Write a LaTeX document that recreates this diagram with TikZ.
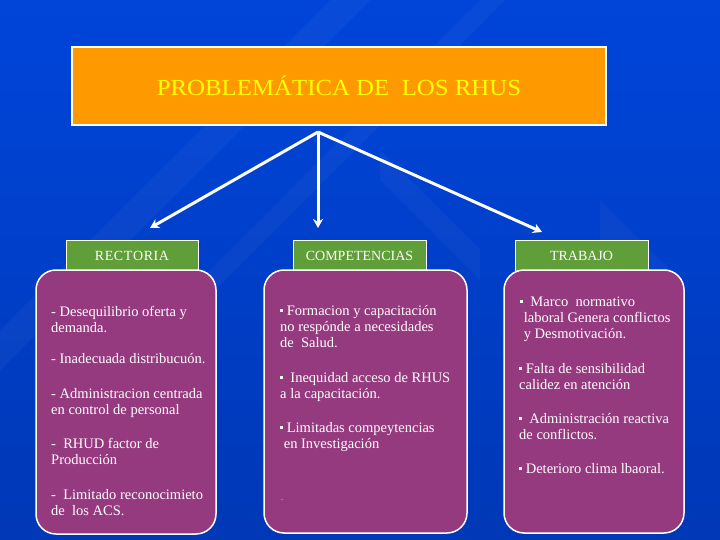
\documentclass[tikz,border=0pt]{standalone}
\usepackage{fontspec}
\setmainfont{Liberation Serif}
\usetikzlibrary{arrows.meta}
\definecolor{bgtop}{RGB}{0,100,250}
\definecolor{bgmid}{RGB}{0,68,215}
\definecolor{bgdark}{RGB}{0,28,105}
\definecolor{bgbot}{RGB}{0,2,18}
\definecolor{orangebox}{RGB}{255,153,0}
\definecolor{titleyel}{RGB}{255,255,0}
\definecolor{greenhead}{RGB}{96,158,58}
\definecolor{purplebox}{RGB}{150,58,128}
\pgfdeclareverticalshading{bgshade}{720bp}{color(0bp)=(bgbot); color(140bp)=(bgdark); color(290bp)=(bgmid); color(540bp)=(bgtop)}
\newcommand{\bul}{\raisebox{0.45ex}{\rule{3pt}{3pt}}}
\tikzset{
  titlebox/.style={draw=white, line width=1.5pt, fill=orangebox},
  headbox/.style={draw=white, line width=1pt, fill=greenhead},
  headtext/.style={text=white, anchor=base, inner sep=0pt, font=\fontsize{14}{16}\selectfont},
  itembox/.style={draw=white, line width=1.5pt, fill=purplebox, rounded corners=20pt},
  itemtext/.style={anchor=north west, align=left, text=white, inner sep=0pt, font=\fontsize{14.5}{16.2}\selectfont},
  arr/.style={draw=white, line width=3pt, -{Stealth[length=9pt,width=10pt]}},
  stripe/.style={fill=white, opacity=0.035}
}
% first baseline y -> node top: subtract 0.7*16.2 = 11.34
\begin{document}
\begin{tikzpicture}[x=1pt,y=-1pt]
\useasboundingbox (0,0) rectangle (720,540);
\shade[shading=bgshade] (0,0) rectangle (720,540);
% diagonal light stripes
\fill[stripe] (0,330) -- (330,0) -- (370,0) -- (0,370) -- cycle;
\fill[stripe] (150,330) -- (480,0) -- (505,0) -- (175,330) -- cycle;
\fill[stripe] (380,150) -- (480,250) -- (480,280) -- (380,180) -- cycle;
\fill[stripe] (600,200) -- (680,280) -- (680,320) -- (600,240) -- cycle;
% title
\node[titlebox, minimum width=534pt, minimum height=78pt, inner sep=0pt] (title) at (339,86) {};
\node[text=titleyel, inner sep=0pt, anchor=base, font=\fontsize{23}{26}\selectfont] (titletext) at (339,96) {\scalebox{1.08}[1]{PROBLEMÁTICA DE \ LOS RHUS}};
% arrows
\coordinate (src) at (318,132);
\coordinate (e1) at (150,228);
\coordinate (e2) at (318,228);
\coordinate (e3) at (542,232);
\draw[arr] (src) -- (e1);
\draw[arr] (src) -- (e2);
\draw[arr] (src) -- (e3);
% headers
\node[headbox, minimum width=132pt, minimum height=32pt, inner sep=0pt] (h1) at (132,256) {};
\node[headbox, minimum width=133pt, minimum height=32pt, inner sep=0pt] (h2) at (359.5,256) {};
\node[headbox, minimum width=133pt, minimum height=32pt, inner sep=0pt] (h3) at (581.5,256) {};
\node[headtext] (h1t) at (132,260) {R\kern0.6pt E\kern0.6pt C\kern0.6pt T\kern0.6pt O\kern0.6pt R\kern0.6pt I\kern0.6pt A};
\node[headtext] (h2t) at (359.5,260) {COMPETENCIAS};
\node[headtext] (h3t) at (581.5,260) {TRABAJO};
% purple boxes
\draw[itembox] (36,270) rectangle (216,534);
\draw[itembox] (264,270) rectangle (467,533);
\draw[itembox] (504,270) rectangle (684,533);
% left texts
\node[itemtext] (l1) at (51,304.7) {\strut- Desequilibrio oferta y\\demanda.};
\node[itemtext] (l2) at (51,351.7) {\strut- Inadecuada distribucuón.};
\node[itemtext] (l3) at (51,386.7) {\strut- Administracion centrada\\en control de personal};
\node[itemtext] (l4) at (51,436.7) {\strut-\ \ RHUD factor de\\Producción};
\node[itemtext] (l5) at (51,487.7) {\strut-\ \ Limitado reconocimieto\\de\ \ los ACS.};
% middle texts
\node[itemtext] (m1) at (280,303.7) {\strut\bul\ Formacion y capacitación\\no respónde a necesidades\\de\ \ Salud.};
\node[itemtext] (m2) at (280,370.7) {\strut\bul\ \ Inequidad acceso de RHUS\\a la capacitación.};
\node[itemtext] (m3) at (280,420.7) {\strut\bul\ Limitadas compeytencias\\\ en Investigación};
\node[itemtext] (m4) at (281,488.7) {\strut\fontsize{8}{10}\selectfont.};
% right texts
\node[itemtext] (r1) at (520,294.7) {\strut\bul\ \ Marco\ \ normativo\\\ laboral Genera conflictos\\\ y Desmotivación.};
\node[itemtext] (r2) at (519,361.7) {\strut\bul\ Falta de sensibilidad\\calidez en atención};
\node[itemtext] (r3) at (519,411.7) {\strut\bul\ \ Administración reactiva\\de conflictos.};
\node[itemtext] (r4) at (519,461.7) {\strut\bul\ Deterioro clima lbaoral.};
\end{tikzpicture}
\end{document}
